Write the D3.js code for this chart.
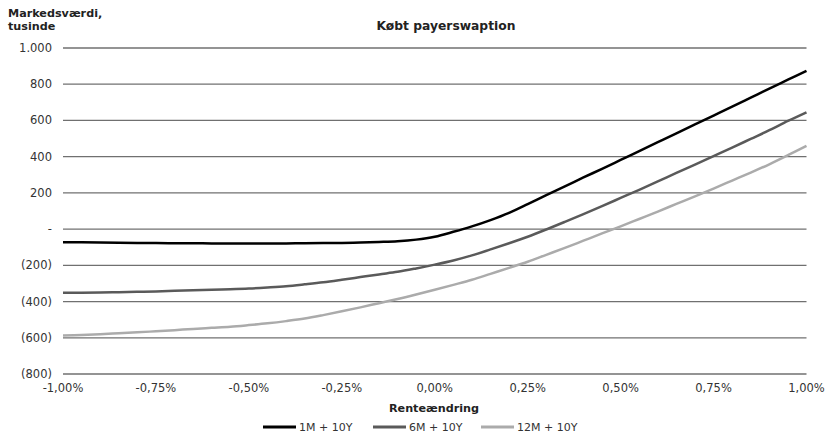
<!DOCTYPE html>
<html><head><meta charset="utf-8">
<script src="https://cdn.jsdelivr.net/npm/d3@7"></script>
<style>body{margin:0;background:#fff}svg{display:block}text{font-family:"DejaVu Sans",Verdana,sans-serif}</style>
</head><body><svg id="c" width="826" height="443"></svg>
<script>
const rateChange = [-1.00,-0.95,-0.90,-0.85,-0.80,-0.75,-0.70,-0.65,-0.60,-0.55,-0.50,-0.45,-0.40,-0.35,-0.30,-0.25,-0.20,-0.15,-0.10,-0.05,0.00,0.05,0.10,0.15,0.20,0.25,0.30,0.35,0.40,0.45,0.50,0.55,0.60,0.65,0.70,0.75,0.80,0.85,0.90,0.95,1.00];
const s1M = [-72,-73,-74,-75,-76,-77,-78,-78,-79,-79,-80,-80,-79,-78,-77,-76,-74,-71,-67,-58,-42,-15,15,50,90,138,188,236,285,333,382,431,480,529,578,627,676,726,776,825,874];
const s6M = [-352,-351,-350,-348,-346,-344,-341,-338,-335,-332,-328,-322,-315,-305,-294,-280,-265,-250,-236,-217,-196,-173,-145,-112,-78,-42,-2,40,83,127,172,217,263,310,356,403,450,498,546,597,645];
const s12M = [-588,-584,-580,-575,-570,-564,-558,-551,-545,-539,-530,-520,-508,-494,-475,-454,-432,-409,-386,-361,-335,-308,-280,-247,-214,-180,-142,-104,-64,-24,15,56,97,139,181,224,268,312,358,408,460];
const seriesNames = ["1M + 10Y","6M + 10Y","12M + 10Y"];
const yTicks = [1000,800,600,400,200,0,-200,-400,-600,-800];
const xTicks = [-1.00,-0.75,-0.50,-0.25,0.00,0.25,0.50,0.75,1.00];
const title = "Købt payerswaption";
const yTitle = ["Markedsværdi,","tusinde"];
const xTitle = "Renteændring";

const colors = ["#000000","#5a5a5a","#ababab"];
const svg = d3.select("#c");
const x = d3.scaleLinear().domain([-1,1]).range([63,806.5]);
const y = d3.scaleLinear().domain([-800,1000]).range([374,48]);

svg.append("g").selectAll("line").data(yTicks).join("line")
  .attr("x1",x(-1)).attr("x2",x(1))
  .attr("y1",d=>y(d)).attr("y2",d=>y(d))
  .attr("stroke","#707070").attr("stroke-width",1.3);

const fmtY = d => d===0 ? "-" : d<0 ? "(" + d3.format(",")(-d) + ")" : d3.format(",")(d).replace(/,/g,".");
svg.append("g").selectAll("text").data(yTicks).join("text")
  .attr("x",52).attr("y",d=>y(d)+4).attr("text-anchor","end")
  .attr("font-size",11.5).attr("fill","#333").text(fmtY);

const fmtX = d => d.toFixed(2).replace(".",",") + "%";
svg.append("g").selectAll("text").data(xTicks).join("text")
  .attr("x",d=>x(d)).attr("y",392).attr("text-anchor","middle")
  .attr("font-size",11.5).attr("fill","#333").text(d=>fmtX(d===0?0:d));

svg.append("text").attr("x",446).attr("y",30).attr("text-anchor","middle")
  .attr("font-size",12.3).attr("font-weight","bold").attr("fill","#222").text(title);
yTitle.forEach((t,i)=>svg.append("text").attr("x",8).attr("y",17+i*13)
  .attr("font-size",11.2).attr("font-weight","bold").attr("fill","#222").text(t));
svg.append("text").attr("x",434).attr("y",412).attr("text-anchor","middle")
  .attr("font-size",11.2).attr("font-weight","bold").attr("fill","#222").text(xTitle);

const all = [s1M,s6M,s12M];
const line = d3.line().x((d,i)=>x(rateChange[i])).y(d=>y(d)).curve(d3.curveCatmullRom.alpha(0.5));
[2,1,0].forEach(k=>{
  svg.append("path").datum(all[k]).attr("d",line).attr("fill","none")
    .attr("stroke",colors[k]).attr("stroke-width",2.5);
});

const legX = [263,373,481];
seriesNames.forEach((n,i)=>{
  const g = svg.append("g");
  g.append("line").attr("x1",legX[i]).attr("x2",legX[i]+33).attr("y1",427).attr("y2",427)
    .attr("stroke",colors[i]).attr("stroke-width",3);
  g.append("text").attr("x",legX[i]+36).attr("y",431).attr("font-size",11)
    .attr("fill","#333").text(n);
});
</script></body></html>
